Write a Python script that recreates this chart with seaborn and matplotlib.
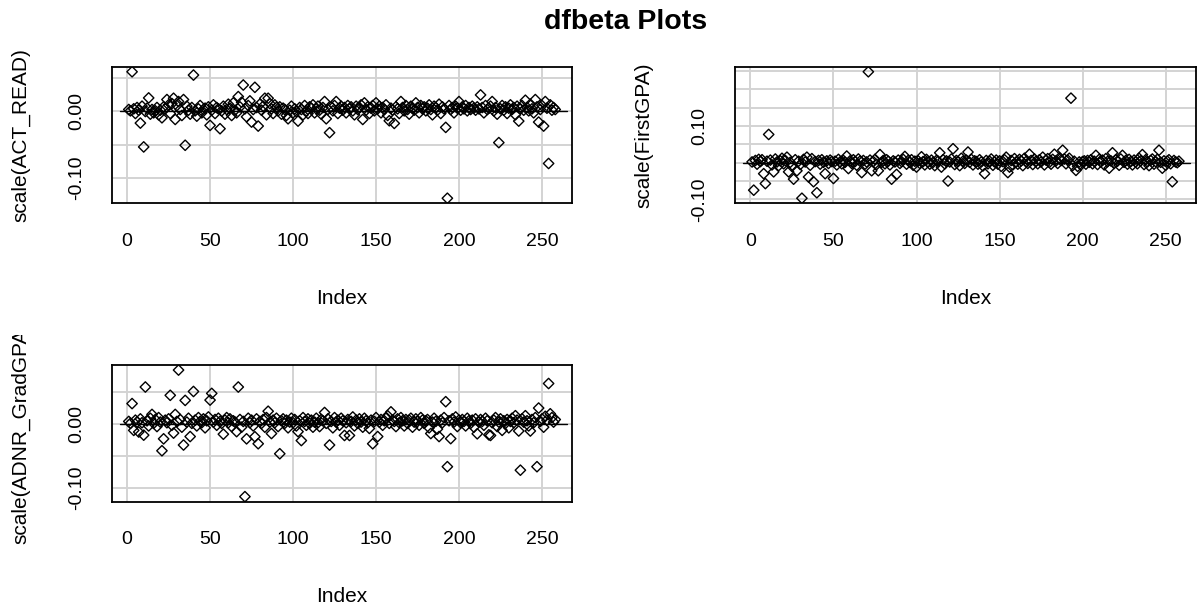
import numpy as np
import pandas as pd
import matplotlib
matplotlib.use("Agg")
import matplotlib.pyplot as plt
import seaborn as sns
from matplotlib.ticker import MultipleLocator, FuncFormatter
from matplotlib.transforms import Bbox, TransformedBbox

# ---------------- data ----------------
act_read = [
    0.003, 0.001, 0.060, 0.004, -0.003, 0.006, 0.002, -0.0175, 0.008, -0.0535,
    0.000, 0.005, 0.0205, -0.004, 0.003, -0.002, 0.001, 0.006, -0.005, 0.002,
    -0.0095, 0.007, 0.004, 0.018, 0.010, -0.003, 0.012, 0.020, -0.012, 0.009,
    0.015, 0.003, -0.006, 0.018, -0.051, 0.008, 0.002, -0.004, 0.006, 0.055,
    0.001, -0.007, 0.004, 0.009, -0.002, 0.003, 0.005, -0.005, 0.007, -0.021,
    0.002, 0.010, -0.003, 0.006, 0.004, -0.026, 0.001, 0.008, -0.004, 0.003,
    0.011, 0.005, -0.006, 0.013, 0.002, -0.002, 0.0225, 0.007, 0.014, 0.040,
    0.004, -0.008, 0.009, 0.016, -0.016, 0.003, 0.0365, 0.006, -0.022, 0.011,
    0.002, 0.008, 0.020, -0.005, 0.020, 0.012, 0.004, -0.003, 0.010, 0.006,
    0.001, 0.007, -0.004, 0.005, 0.003, -0.006, -0.011, 0.002, 0.008, -0.002,
    0.004, 0.000, -0.0145, 0.006, 0.003, -0.005, 0.009, 0.001, -0.003, 0.007,
    0.005, 0.010, -0.002, 0.004, 0.008, 0.002, -0.004, 0.006, 0.015, -0.011,
    0.003, -0.032, 0.007, 0.001, 0.009, 0.015, -0.003, 0.005, 0.008, 0.002,
    0.006, -0.002, 0.009, 0.004, 0.007, 0.001, -0.005, 0.008, 0.003, 0.006,
    0.010, -0.012, 0.013, 0.002, 0.007, -0.003, 0.005, 0.009, 0.001, 0.013,
    0.004, 0.008, -0.002, 0.006, 0.003, 0.010, -0.006, -0.014, 0.005, 0.002,
    -0.018, 0.007, 0.004, -0.003, 0.015, 0.006, 0.001, 0.009, 0.003, -0.004,
    0.008, 0.005, 0.002, 0.013, 0.006, -0.002, 0.009, 0.004, 0.007, 0.001,
    0.005, 0.010, 0.003, -0.005, 0.008, 0.006, 0.002, 0.011, -0.003, 0.007,
    0.004, -0.024, -0.131, 0.009, 0.003, 0.006, -0.002, 0.008, 0.005, 0.015,
    0.002, 0.007, 0.004, 0.009, 0.001, 0.006, 0.003, 0.008, 0.005, 0.002,
    0.007, 0.004, 0.025, 0.006, -0.002, 0.009, 0.003, 0.005, 0.008, 0.015,
    0.001, 0.006, -0.004, -0.047, 0.004, 0.009, 0.002, 0.007, -0.003, 0.005,
    0.010, 0.003, 0.006, -0.005, 0.008, -0.0145, 0.004, 0.009, 0.002, 0.017,
    0.006, 0.001, 0.011, 0.004, -0.002, 0.018, 0.007, -0.016, 0.003, 0.009,
    -0.022, 0.015, 0.005, -0.0785, 0.010, 0.002, 0.006, 0.003,
]

first_gpa = [
    0.002, -0.075, 0.006, -0.004, 0.009, 0.003, 0.008, -0.030, -0.057, 0.004,
    0.077, 0.007, -0.006, -0.025, 0.010, 0.002, -0.008, 0.005, 0.012, -0.003,
    0.006, 0.015, -0.025, 0.001, -0.010, -0.045, 0.008, -0.022, 0.004, -0.005,
    -0.097, 0.009, 0.002, 0.015, -0.039, -0.007, 0.011, -0.052, 0.003, -0.082,
    0.006, -0.004, 0.008, 0.001, -0.030, 0.005, -0.002, 0.007, 0.003, -0.043,
    0.004, -0.006, 0.009, 0.002, -0.003, 0.006, 0.001, 0.018, -0.016, 0.005,
    -0.002, 0.008, 0.003, -0.007, 0.010, 0.004, -0.027, 0.006, -0.004, 0.002,
    0.248, 0.007, -0.022, 0.003, 0.009, -0.005, -0.022, 0.022, 0.001, 0.006,
    -0.003, 0.008, 0.004, -0.006, -0.045, 0.005, 0.002, -0.032, 0.007, -0.002,
    0.003, 0.009, 0.017, -0.004, 0.006, 0.001, 0.008, -0.007, 0.004, -0.012,
    0.005, -0.002, 0.016, 0.003, -0.006, 0.009, 0.002, -0.004, 0.007, 0.001,
    -0.008, 0.006, 0.004, 0.027, -0.012, 0.008, -0.003, 0.005, -0.050, 0.002,
    0.010, 0.038, -0.005, 0.006, 0.003, -0.008, 0.012, 0.004, -0.002, 0.007,
    0.029, 0.001, 0.009, -0.006, 0.005, 0.003, -0.004, 0.008, 0.002, -0.009,
    -0.030, 0.006, -0.003, 0.004, 0.010, -0.007, 0.002, 0.007, -0.004, 0.005,
    -0.010, 0.003, 0.008, 0.015, -0.027, -0.012, 0.006, -0.006, 0.011, 0.002,
    -0.004, 0.009, 0.005, -0.008, 0.012, 0.003, -0.002, 0.023, 0.006, -0.005,
    0.010, 0.004, -0.003, 0.008, 0.002, 0.015, -0.006, 0.007, 0.011, 0.001,
    -0.004, 0.009, 0.023, 0.005, -0.002, 0.013, 0.006, 0.034, 0.010, -0.003,
    0.007, 0.012, 0.176, -0.008, 0.004, -0.021, -0.010, 0.002, -0.006, 0.003,
    0.005, -0.004, 0.006, 0.001, 0.008, -0.003, 0.004, 0.020, -0.005, 0.009,
    0.002, 0.007, -0.006, 0.011, 0.003, -0.015, 0.005, 0.027, -0.002, 0.008,
    0.004, -0.007, 0.010, 0.020, 0.001, 0.006, -0.004, 0.009, 0.003, -0.006,
    0.007, 0.002, -0.003, 0.012, 0.005, 0.022, -0.005, 0.008, 0.002, -0.008,
    0.006, 0.010, -0.004, 0.003, 0.009, 0.034, 0.001, -0.015, 0.005, -0.007,
    0.004, 0.008, -0.003, -0.052, 0.006, 0.002, 0.000, 0.004,
]

adnr_gradgpa = [
    0.004, 0.001, 0.032, -0.010, 0.006, 0.003, -0.0126, 0.008, 0.002, -0.0175,
    0.058, 0.005, -0.003, 0.009, 0.015, 0.001, 0.007, -0.004, 0.010, 0.003,
    -0.042, -0.0233, 0.006, 0.002, 0.008, 0.045, -0.002, -0.0143, 0.015, 0.004,
    0.0846, 0.007, -0.005, -0.033, 0.037, 0.003, 0.009, -0.0197, 0.001, 0.051,
    0.006, -0.003, 0.010, 0.004, 0.002, 0.008, -0.006, 0.005, 0.011, 0.0375,
    0.048, 0.003, 0.007, -0.002, 0.009, 0.004, 0.001, -0.016, 0.006, 0.010,
    0.002, 0.008, -0.004, 0.005, 0.003, -0.012, 0.058, 0.007, -0.005, 0.004,
    -0.114, -0.0233, 0.009, 0.002, 0.006, -0.003, -0.020, 0.008, -0.031, 0.004,
    0.001, 0.007, -0.005, 0.010, 0.020, 0.003, -0.015, 0.006, 0.002, 0.009,
    -0.004, -0.0467, 0.005, 0.008, 0.001, 0.006, -0.006, 0.003, 0.009, 0.002,
    0.007, -0.003, -0.012, 0.005, -0.026, 0.010, 0.004, -0.002, 0.008, 0.001,
    0.006, -0.005, 0.003, 0.009, 0.002, -0.004, 0.007, 0.005, 0.018, 0.001,
    0.008, -0.033, 0.004, -0.006, 0.010, 0.003, 0.006, -0.002, 0.009, 0.005,
    -0.018, 0.002, 0.007, -0.018, 0.004, 0.011, -0.003, 0.006, 0.001, 0.008,
    0.003, -0.005, 0.009, 0.005, 0.002, -0.007, 0.006, -0.031, 0.004, 0.010,
    -0.0197, 0.003, 0.007, -0.002, 0.005, 0.009, 0.013, 0.001, 0.019, 0.006,
    0.004, -0.004, 0.008, 0.002, 0.010, 0.005, -0.003, 0.007, 0.001, 0.006,
    0.009, -0.005, 0.003, 0.008, 0.004, -0.002, 0.010, 0.006, 0.001, 0.005,
    0.007, -0.006, -0.015, 0.003, 0.009, 0.004, -0.008, -0.0197, 0.006, 0.002,
    0.010, 0.035, -0.067, 0.005, -0.023, 0.008, 0.003, 0.011, -0.004, 0.006,
    0.002, 0.007, 0.004, -0.003, 0.009, 0.005, 0.001, 0.006, -0.005, 0.008,
    -0.0154, 0.003, 0.007, 0.004, -0.002, 0.009, 0.005, -0.017, -0.018, 0.002,
    0.006, 0.010, -0.004, 0.003, 0.008, -0.010, 0.005, 0.001, 0.007, -0.006,
    0.004, 0.009, 0.002, 0.013, 0.006, -0.011, -0.0725, 0.008, 0.003, 0.013,
    0.005, -0.003, -0.011, 0.007, 0.002, 0.010, -0.067, 0.025, 0.004, 0.008,
    -0.005, 0.012, 0.006, 0.0635, 0.016, 0.010, 0.003, 0.007,
]

panel_labels = ["scale(ACT_READ)", "scale(FirstGPA)", "scale(ADNR_GradGPA)"]
x_ticks = [0, 50, 100, 150, 200, 250]
y_tick_labels = [
    {0.00: "0.00", -0.10: "-0.10"},
    {-0.10: "-0.10", 0.10: "0.10"},
    {0.00: "0.00", -0.10: "-0.10"},
]
title = "dfbeta Plots"

# ---------------- style ----------------
sns.set_theme(style="white")
plt.rcParams["font.family"] = ["Liberation Sans", "DejaVu Sans"]

W, H = 1197, 610
fig = plt.figure(figsize=(W / 100, H / 100), dpi=100)

def frac(left, top, right, bottom):
    return [left / W, 1 - bottom / H, (right - left) / W, (bottom - top) / H]

rects = [
    frac(111.7, 66.7, 572.3, 203.3),
    frac(735.0, 66.7, 1196.0, 203.3),
    frac(111.7, 365.0, 572.3, 501.7),
]

series = [act_read, first_gpa, adnr_gradgpa]
tick_fs = 14
label_fs = 15

for i, (vals, rect, lab, tl) in enumerate(zip(series, rects, panel_labels, y_tick_labels)):
    ax = fig.add_axes(rect)
    df = pd.DataFrame({"Index": np.arange(1, len(vals) + 1), "value": vals})
    n = len(vals)
    # R-style 4% axis padding
    xr = n - 1
    ax.set_xlim(1 - 0.04 * xr, n + 0.04 * xr)
    lo, hi = min(vals), max(vals)
    yr = hi - lo
    ax.set_ylim(lo - 0.04 * yr, hi + 0.04 * yr)

    ax.set_xticks(x_ticks)
    ax.yaxis.set_major_locator(MultipleLocator(0.05))
    ax.grid(True, color="#d3d3d3", linewidth=1.4, zorder=0)
    ax.set_axisbelow(True)
    ax.axhline(0, xmin=0.017, xmax=0.988, color="black", linewidth=1.0, zorder=2)

    sns.scatterplot(data=df, x="Index", y="value", ax=ax, marker="D", s=28,
                    facecolor="none", edgecolor="black", linewidth=1.0,
                    zorder=3, legend=False)

    ax.yaxis.set_major_formatter(FuncFormatter(
        lambda v, p, tl=tl: next((s for k, s in tl.items() if abs(v - k) < 1e-9), "")))

    for sp in ax.spines.values():
        sp.set_color("black")
        sp.set_linewidth(1.3)
    ax.tick_params(axis="both", direction="out", length=10.8, width=1.3,
                   color="black", labelsize=tick_fs, labelcolor="black")
    ax.tick_params(axis="x", pad=10.5)
    ax.tick_params(axis="y", pad=8.5, labelrotation=90)
    for t in ax.get_yticklabels():
        t.set_va("center")

    ax.set_xlabel("Index", fontsize=label_fs, color="black")
    ax.set_ylabel(lab, fontsize=label_fs, color="black")
    ax.xaxis.set_label_coords(0.5, -0.625)
    ax.yaxis.set_label_coords(-0.177, 0.5)

    if i == 2:
        clip = TransformedBbox(Bbox([[0, 0], [0.5, 1 - 335 / H]]), fig.transFigure)
        ax.yaxis.label.set_clip_box(clip)
        ax.yaxis.label.set_clip_on(True)

fig.text(626 / W, 1 - 22 / H, title, ha="center", va="center",
         fontsize=20.5, fontweight="bold", color="black")

fig.savefig("out.png", dpi=100, facecolor="white")
